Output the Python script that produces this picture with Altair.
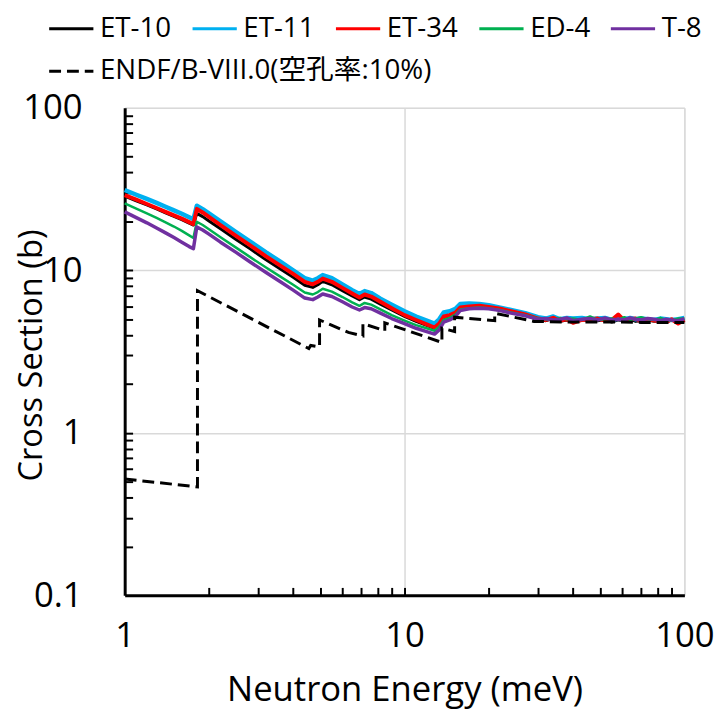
import altair as alt
import pandas as pd

# ---------------- data ----------------
E_MEAS = [1.0, 1.1, 1.2, 1.3, 1.4, 1.5, 1.6, 1.7, 1.76, 1.81, 1.9, 2.0, 2.2, 2.5, 2.8,
          3.2, 3.6, 4.0, 4.4, 4.7, 4.9, 5.1, 5.5, 6.0, 6.5, 6.9, 7.2, 7.6, 8.2, 9.0,
          10.0, 11.0, 12.0, 12.8, 13.3, 13.8, 14.5, 15.2, 15.8, 17.0, 18.5, 20.0, 22.0, 24.0, 27.0,
          30, 32, 34, 36, 38, 40, 43, 46, 49, 52, 55, 58, 61, 64, 67, 70, 74, 78, 82, 86, 90, 95, 100]

ET10 = [28.6, 26.8, 25.3, 23.9, 22.6, 21.5, 20.5, 19.5, 19.0, 22.4, 21.4, 20.1, 18.0, 15.5, 13.6,
        11.6, 10.2, 9.05, 8.1, 7.85, 8.15, 8.55, 8.15, 7.5, 6.95, 6.6, 6.85, 6.65, 6.2, 5.7,
        5.2, 4.85, 4.58, 4.4, 4.65, 5.1, 5.25, 5.45, 5.85, 5.95, 6.0, 5.9, 5.75, 5.55, 5.3,
        5.0, 4.9, 5.05, 4.85, 4.95, 4.9, 5.0, 4.85, 4.9, 5.0, 4.8, 4.95, 4.9, 5.0, 4.85, 4.9,
        4.95, 4.85, 4.9, 4.8, 4.95, 4.85, 4.9]

ET11 = [31.2, 29.2, 27.5, 26.0, 24.6, 23.4, 22.3, 21.2, 20.6, 25.0, 23.8, 22.4, 20.0, 17.2, 15.1,
        12.9, 11.3, 10.0, 8.95, 8.65, 8.95, 9.35, 8.95, 8.2, 7.55, 7.15, 7.45, 7.25, 6.7, 6.15,
        5.6, 5.2, 4.9, 4.7, 5.0, 5.5, 5.6, 5.8, 6.2, 6.25, 6.2, 6.1, 5.9, 5.7, 5.45,
        5.15, 5.05, 5.2, 5.0, 5.1, 5.05, 5.1, 5.0, 5.05, 5.1, 4.95, 5.05, 5.0, 5.1, 5.0, 5.05,
        5.0, 4.95, 5.05, 5.0, 4.95, 5.0, 5.1]

ET34 = [29.0, 27.2, 25.6, 24.2, 22.9, 21.8, 20.8, 19.8, 19.2, 23.9, 22.7, 21.3, 19.0, 16.3, 14.3,
        12.2, 10.7, 9.5, 8.5, 8.2, 8.5, 8.9, 8.5, 7.8, 7.2, 6.8, 7.1, 6.9, 6.4, 5.85,
        5.3, 4.95, 4.65, 4.45, 4.7, 5.2, 5.3, 5.5, 5.9, 6.0, 6.05, 5.95, 5.8, 5.6, 5.35,
        5.05, 4.95, 5.1, 4.9, 5.0, 4.75, 4.95, 5.0, 5.05, 4.9, 4.95, 5.35, 4.9, 5.0, 5.05, 4.85,
        5.0, 4.9, 4.95, 4.8, 5.0, 4.7, 4.95]

ED4 = [25.8, 24.0, 22.4, 21.0, 19.7, 18.6, 17.5, 16.4, 15.8, 19.9, 19.0, 17.9, 16.0, 13.8, 12.1,
       10.4, 9.15, 8.15, 7.3, 7.1, 7.35, 7.7, 7.4, 6.85, 6.35, 6.05, 6.3, 6.15, 5.75, 5.3,
       4.9, 4.6, 4.4, 4.25, 4.5, 4.95, 5.1, 5.35, 5.75, 5.85, 5.9, 5.85, 5.7, 5.5, 5.3,
       5.05, 5.0, 4.95, 5.1, 5.0, 5.05, 4.95, 5.2, 4.95, 5.0, 5.05, 4.95, 5.15, 4.95, 5.05, 5.15,
       5.0, 4.95, 5.1, 4.95, 4.9, 5.05, 5.05]

T8 = [22.9, 21.1, 19.6, 18.2, 17.0, 15.9, 14.9, 14.0, 13.6, 18.5, 17.7, 16.7, 14.9, 12.9, 11.3,
      9.7, 8.5, 7.55, 6.75, 6.6, 6.85, 7.15, 6.9, 6.4, 5.95, 5.7, 5.9, 5.8, 5.45, 5.05,
      4.7, 4.4, 4.2, 4.05, 4.3, 4.8, 4.95, 5.2, 5.65, 5.8, 5.85, 5.8, 5.65, 5.45, 5.25,
      5.0, 5.05, 4.95, 5.0, 5.1, 4.9, 5.0, 5.05, 4.95, 5.1, 4.95, 5.0, 4.95, 5.1, 5.0, 4.95,
      5.05, 5.0, 4.9, 5.0, 4.95, 4.9, 5.05]

ENDF_E = [1.0, 1.82, 1.82, 4.55, 4.62, 4.97, 4.97, 6.3, 7.1, 7.1, 8.5, 8.5, 13.6, 13.6,
          15.1, 15.1, 21.0, 21.0, 29.0, 40.0, 55.0, 70.0, 100.0]
ENDF_XS = [0.52, 0.465, 7.5, 3.3, 3.45, 3.38, 4.95, 4.15, 3.95, 4.7, 4.25, 4.75, 3.6, 4.4,
           4.2, 5.15, 4.9, 5.45, 4.85, 4.8, 4.82, 4.78, 4.78]

MEAS_SERIES = ["ET-10", "ET-11", "ET-34", "ED-4", "T-8"]
MEAS_COLORS = ["#000000", "#00B0F0", "#FF0000", "#00B050", "#7030A0"]
MEAS_WIDTHS = [3, 4.5, 4, 2.5, 3.5]
ENDF_NAME = "ENDF/B-VIII.0(空孔率:10%)"

X_MAJOR = [1, 10, 100]
Y_MAJOR = [0.1, 1, 10, 100]
X_MINOR = [2, 3, 4, 5, 6, 7, 8, 9, 10, 20, 30, 40, 50, 60, 70, 80, 90]
Y_MINOR = [0.2, 0.3, 0.4, 0.5, 0.6, 0.7, 0.8, 0.9, 1, 2, 3, 4, 5, 6, 7, 8, 9, 10,
           20, 30, 40, 50, 60, 70, 80, 90]

# ---------------- table ----------------
rows = []
for name, vals in zip(MEAS_SERIES, [ET10, ET11, ET34, ED4, T8]):
    for i, (e, v) in enumerate(zip(E_MEAS, vals)):
        rows.append({"series": name, "E": e, "xs": v, "idx": i})
for i, (e, v) in enumerate(zip(ENDF_E, ENDF_XS)):
    rows.append({"series": ENDF_NAME, "E": e, "xs": v, "idx": i})
df = pd.DataFrame(rows)

FONT = "Open Sans, Noto Sans CJK JP, sans-serif"

x_scale = alt.Scale(type="log", domain=[1, 100], nice=False)
y_scale = alt.Scale(type="log", domain=[0.1, 100], nice=False)
color_scale = alt.Scale(domain=MEAS_SERIES, range=MEAS_COLORS)
dash_scale = alt.Scale(domain=[ENDF_NAME], range=[[12, 6]])

legend_common = dict(
    orient="none", direction="horizontal", symbolType="stroke", symbolSize=2000,
    symbolStrokeWidth=3, labelFont=FONT, labelFontSize=28, labelColor="#000000",
    labelOffset=5, columnPadding=14, title=None, labelLimit=0,
)
legend_meas = alt.Legend(legendX=-78, legendY=-104, columns=5, **legend_common)
legend_endf = alt.Legend(legendX=-78, legendY=-61, columns=1,
                         symbolStrokeColor="#000000", **legend_common)

x_main = alt.Axis(values=X_MAJOR, format="~g", grid=True, ticks=False,
                  labelPadding=24, labelFontSize=35, labelFont=FONT, labelColor="#000000",
                  title="Neutron Energy (meV)", titleFontSize=35, titleFont=FONT,
                  titleFontWeight="normal", titleColor="#000000",
                  titleX=283, titleY=95, titleBaseline="middle", titleAlign="center",
                  domainColor="#000000", domainWidth=3, orient="bottom",
                  gridColor="#d9d9d9", gridWidth=1.5, labelFlush=False)
y_main = alt.Axis(values=Y_MAJOR, format="~g", grid=True, ticks=False,
                  labelPadding=43, labelAlign="right", labelFontSize=35, labelFont=FONT,
                  labelColor="#000000",
                  title="Cross Section (b)", titleFontSize=33, titleFont=FONT,
                  titleFontWeight="normal", titleColor="#000000",
                  titleX=-94, titleY=250, titleAngle=270, titleBaseline="middle",
                  titleAlign="center",
                  domainColor="#000000", domainWidth=3, orient="left",
                  gridColor="#d9d9d9", gridWidth=1.5, labelFlush=False)
x_minor = alt.Axis(values=X_MINOR, labels=False, domain=False, grid=False, ticks=True,
                   tickSize=8, tickWidth=2, tickColor="#000000", offset=-8,
                   orient="bottom", title=None)
y_minor = alt.Axis(values=Y_MINOR, labels=False, domain=False, grid=False, ticks=True,
                   tickSize=8, tickWidth=2, tickColor="#000000", offset=-8,
                   orient="left", title=None)

layers = []
for k, name in enumerate(MEAS_SERIES):
    ax, ay = (x_main, y_main) if k == 0 else (None, None)
    layers.append(
        alt.Chart(df).transform_filter(alt.datum.series == name).mark_line(
            strokeWidth=MEAS_WIDTHS[k], strokeJoin="round"
        ).encode(
            x=alt.X("E:Q", scale=x_scale, axis=ax),
            y=alt.Y("xs:Q", scale=y_scale, axis=ay),
            color=alt.Color("series:N", scale=color_scale, legend=legend_meas),
            order=alt.Order("idx:Q"),
        )
    )

layers.append(
    alt.Chart(df).transform_filter(alt.datum.series == ENDF_NAME).mark_line(
        strokeWidth=3, color="#000000"
    ).encode(
        x=alt.X("E:Q", scale=x_scale, axis=x_minor),
        y=alt.Y("xs:Q", scale=y_scale, axis=y_minor),
        strokeDash=alt.StrokeDash("series:N", scale=dash_scale, legend=legend_endf),
        order=alt.Order("idx:Q"),
    )
)

chart = alt.layer(*layers).resolve_axis(x="independent", y="independent").properties(
    width=566, height=493,
    autosize=alt.AutoSizeParams(type="none"),
    padding={"left": 118, "top": 97, "right": 35, "bottom": 112},
).configure_view(stroke="#000000", strokeWidth=2).configure(background="white")

chart.save("out.html", embed_options={"renderer": "svg", "actions": False})
